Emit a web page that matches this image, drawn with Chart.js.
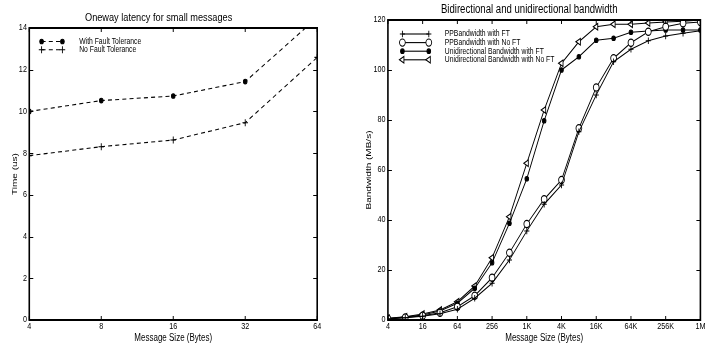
<!DOCTYPE html>
<html>
<head>
<meta charset="utf-8">
<script src="https://cdn.jsdelivr.net/npm/chart.js@4/dist/chart.umd.min.js"></script>
<style>
  body { margin: 0; background: #fff; overflow: hidden; }
  canvas { position: absolute; top: 0; }
</style>
</head>
<body>
<canvas id="latency" width="448" height="346" style="left:0"></canvas>
<canvas id="bandwidth" width="447" height="346" style="left:358px"></canvas>
<script>
const FONT = "'Liberation Sans', Arial, sans-serif";
// the original figure is squeezed horizontally: lay out wide, then draw compressed
const SQUEEZE = 0.8;

// left chart: oneway latency (us)
const latencySizes = [4, 8, 16, 32, 64];
const latencyWithFT = [10.0, 10.52, 10.74, 11.43, 14.5];
const latencyNoFT = [7.88, 8.31, 8.63, 9.46, 12.59];
const latencyTickLabels = ['4', '8', '16', '32', '64'];

// right chart: bandwidth (MB/s)
const bwSizes = [4, 8, 16, 32, 64, 128, 256, 512, 1024, 2048, 4096, 8192, 16384,
  32768, 65536, 131072, 262144, 524288, 1048576];
const ppWithFT = [0.4, 0.9, 1.5, 2.5, 4.3, 8.7, 14.7, 24, 35.6, 46.3, 54, 75.3, 90,
  103.3, 108.3, 111.7, 113.6, 114.7, 115.7];
const ppNoFT = [0.5, 1.0, 1.7, 2.9, 5.3, 9.7, 16.9, 26.9, 38.4, 48.3, 56, 76.7, 93,
  104.7, 110.9, 115.3, 117.3, 118.7, 119.2];
const uniWithFT = [0.6, 1.2, 2.0, 3.6, 6.7, 12.7, 22.9, 38.7, 56.5, 79.7, 100, 105.3, 111.9,
  112.7, 115.1, 115.6, 116, 116, 116];
const uniNoFT = [0.7, 1.3, 2.4, 4.0, 7.3, 13.6, 24.9, 41.3, 62.7, 84, 102.7, 111.3, 117.3,
  118.3, 118.3, 118.8, 119.2, 119.5, 120];
const bwTickLabels = ['4', '16', '64', '256', '1K', '4K', '16K', '64K', '256K', '1M'];

/**
 * Pair message sizes with values, x as log2 of the size.
 */
function toPoints(sizes, values) {
  return sizes.map((s, i) => ({ x: Math.log2(s), y: values[i] }));
}

function series(label, sizes, values, marker) {
  return Object.assign({
    label,
    data: toPoints(sizes, values),
    borderColor: '#000',
    borderWidth: 1.1,
    pointBorderColor: '#000',
    pointBorderWidth: 1.1,
    tension: 0,
  }, marker);
}

/**
 * Shrink the canvas horizontally and redraw the chart through a scaled context.
 */
function squeeze(chart) {
  const w = Math.round(chart.width * SQUEEZE);
  chart.canvas.width = w;
  chart.canvas.style.width = `${w}px`;
  chart.ctx.setTransform(SQUEEZE, 0, 0, 1, 0, 0);
  chart.draw();
}

// MATLAB-like box with inward ticks on all four sides
const boxPlugin = {
  id: 'box',
  afterDraw(chart) {
    const { ctx, chartArea: a, scales: { x, y } } = chart;
    ctx.save();
    ctx.strokeStyle = '#000';
    ctx.lineWidth = 1.2;
    ctx.beginPath();
    x.ticks.forEach((t) => {
      const px = x.getPixelForValue(t.value);
      ctx.moveTo(px, a.bottom); ctx.lineTo(px, a.bottom - 4);
      ctx.moveTo(px, a.top); ctx.lineTo(px, a.top + 4);
    });
    y.ticks.forEach((t) => {
      const py = Math.round(y.getPixelForValue(t.value)) + 0.5;
      ctx.moveTo(a.left, py); ctx.lineTo(a.left + 5, py);
      ctx.moveTo(a.right, py); ctx.lineTo(a.right - 5, py);
    });
    ctx.stroke();
    ctx.lineWidth = 2;
    ctx.strokeRect(a.left, a.top, a.right - a.left, a.bottom - a.top);
    ctx.restore();
  },
};

// legend drawn inside the axes: sample line with a marker at each end
const insideLegend = {
  id: 'insideLegend',
  afterDatasetsDraw(chart, args, opts) {
    const { ctx } = chart;
    ctx.save();
    chart.data.datasets.forEach((ds, i) => {
      const y = opts.top + i * opts.rowGap;
      ctx.strokeStyle = '#000';
      ctx.lineWidth = 1.1;
      ctx.setLineDash(ds.borderDash || []);
      ctx.beginPath();
      ctx.moveTo(opts.x0, y);
      ctx.lineTo(opts.x1, y);
      ctx.stroke();
      ctx.setLineDash([]);
      const pointOpts = {
        pointStyle: ds.pointStyle,
        radius: ds.pointRadius,
        rotation: ds.pointRotation || 0,
        borderWidth: 1.1,
      };
      ctx.fillStyle = ds.pointBackgroundColor;
      [opts.x0, opts.x1].forEach((px) => Chart.helpers.drawPoint(ctx, pointOpts, px, y));
      ctx.fillStyle = '#000';
      ctx.font = `${opts.fontSize}px ${FONT}`;
      ctx.textBaseline = 'middle';
      ctx.fillText(ds.label, opts.textX, y);
    });
    ctx.restore();
  },
};

function axisOptions(min, max, step, tickLabels, title, fixedSize, isX, titlePad) {
  return {
    type: 'linear',
    min,
    max,
    ticks: {
      stepSize: step,
      color: '#000',
      font: { family: FONT, size: 9 },
      padding: isX ? 1 : 3,
      maxRotation: 0,
      autoSkip: false,
      callback: tickLabels
        ? (v) => tickLabels[Math.round((v - min) / step)]
        : (v) => v,
    },
    grid: { display: false, drawTicks: false },
    border: { display: false },
    title: {
      display: true,
      text: title,
      color: '#000',
      font: { family: FONT, size: 10 },
      padding: isX ? { top: 0, bottom: titlePad } : { top: titlePad, bottom: 0 },
    },
    afterFit(scale) {
      if (isX) scale.height = fixedSize; else scale.width = fixedSize;
    },
  };
}

const dashed = [5, 4];

const latencyChart = new Chart(document.getElementById('latency'), {
  type: 'line',
  data: {
    datasets: [
      series('With Fault Tolerance', latencySizes, latencyWithFT,
        { borderDash: dashed, pointStyle: 'circle', pointRadius: 2.3, pointBackgroundColor: '#000' }),
      series('No Fault Tolerance', latencySizes, latencyNoFT,
        { borderDash: dashed, pointStyle: 'cross', pointRadius: 3.5, pointBackgroundColor: '#000' }),
    ],
  },
  options: {
    responsive: false,
    animation: false,
    events: [],
    layout: { padding: { left: 0, right: 51.5, top: 0, bottom: 0 } },
    scales: {
      x: axisOptions(2, 6, 1, latencyTickLabels, 'Message Size (Bytes)', 26, true, 2),
      y: axisOptions(0, 14, 2, null, 'Time (us)', 36.6, false, 12),
    },
    plugins: {
      legend: { display: false },
      tooltip: { enabled: false },
      title: {
        display: true,
        text: 'Oneway latency for small messages',
        color: '#000',
        font: { family: FONT, size: 11.5, weight: 'normal' },
        padding: { top: 11, bottom: 3.2 },
      },
      insideLegend: { x0: 52, x1: 78, textX: 99, top: 41.5, rowGap: 8.2, fontSize: 8.5 },
    },
  },
  plugins: [boxPlugin, insideLegend],
});

const bandwidthChart = new Chart(document.getElementById('bandwidth'), {
  type: 'line',
  data: {
    datasets: [
      series('PPBandwidth with FT', bwSizes, ppWithFT,
        { pointStyle: 'cross', pointRadius: 3.2, pointBackgroundColor: '#000' }),
      series('PPBandwidth with No FT', bwSizes, ppNoFT,
        { pointStyle: 'circle', pointRadius: 3.6, pointBackgroundColor: '#fff' }),
      series('Unidirectional Bandwidth with FT', bwSizes, uniWithFT,
        { pointStyle: 'circle', pointRadius: 2.3, pointBackgroundColor: '#000' }),
      series('Unidirectional Bandwidth with No FT', bwSizes, uniNoFT,
        { pointStyle: 'triangle', pointRadius: 3.8, pointRotation: -90, pointBackgroundColor: '#fff' }),
    ],
  },
  options: {
    responsive: false,
    animation: false,
    events: [],
    layout: { padding: { left: 0, right: 19, top: 0, bottom: 0 } },
    scales: {
      x: axisOptions(2, 20, 2, bwTickLabels, 'Message Size (Bytes)', 26, true, 2),
      y: axisOptions(0, 120, 20, null, 'Bandwidth (MB/s)', 37.4, false, 7.5),
    },
    plugins: {
      legend: { display: false },
      tooltip: { enabled: false },
      title: {
        display: true,
        text: 'Bidirectional and unidirectional bandwidth',
        color: '#000',
        font: { family: FONT, size: 12, weight: 'normal' },
        padding: { top: 2.5, bottom: 3.1 },
      },
      insideLegend: { x0: 55.5, x1: 88.5, textX: 108.5, top: 34, rowGap: 8.6, fontSize: 8.5 },
    },
  },
  plugins: [boxPlugin, insideLegend],
});

squeeze(latencyChart);
squeeze(bandwidthChart);
</script>
</body>
</html>
